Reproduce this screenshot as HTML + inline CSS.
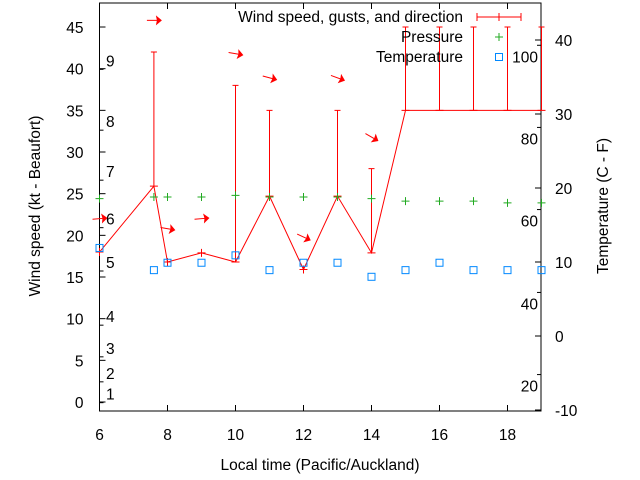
<!DOCTYPE html>
<html><head><meta charset="utf-8"><style>
html,body{margin:0;padding:0;background:#fff}
svg{display:block;font-family:"Liberation Sans",sans-serif;font-size:15.5px}
</style></head><body>
<svg id="c" width="640" height="480" xmlns="http://www.w3.org/2000/svg">
<rect x="0" y="0" width="640" height="480" fill="#fff"/>
<g id="axes"></g>
<g id="marks"></g>
<text x="40" y="206" transform="rotate(-90 40 206)" text-anchor="middle">Wind speed (kt - Beaufort)</text>
<text x="608" y="206" transform="rotate(-90 608 206)" text-anchor="middle">Temperature (C - F)</text>
<text x="320" y="470" text-anchor="middle">Local time (Pacific/Auckland)</text>
<g>
<text x="463" y="22" text-anchor="end">Wind speed, gusts, and direction</text>
<path d="M477 17H521M477 13V21M521 13V21M499 13V21" stroke="#f00" fill="none"/>
<text x="463" y="42" text-anchor="end">Pressure</text>
<path d="M495 37H503M499 33V41" stroke="#2a2"/>
<text x="463" y="62" text-anchor="end">Temperature</text>
<rect x="495.5" y="53.5" width="7" height="7" fill="none" stroke="#08f"/>
</g>
</svg>
<script>
const hours=[6,7.6,8,9,10,11,12,13,14,15,16,17,18,19];
const windSpeed=[18,25.9,16.8,17.9,16.8,24.7,15.9,24.7,17.9,35,35,35,35,35];
const windGust=[null,42,null,null,38,35,null,35,28,45,45,45,45,45];
const pressure=[24.4,24.6,24.6,24.6,24.8,24.6,24.6,24.6,24.4,24.1,24.1,24.1,23.9,23.9];
const temperature=[11.9,8.9,9.9,9.9,10.9,8.9,9.9,9.9,8.0,8.9,9.9,8.9,8.9,8.9];
const arrowHours=[6,7.6,8,9,10,11,12,13,14];
const arrowLevel=[22,45.8,20.8,22,41.8,38.9,19.8,38.9,31.8];
const arrowAngle=[-5,0,10,-5,10,15,25,20,30];
const xTicks=[6,8,10,12,14,16,18];
const yTicks=[0,5,10,15,20,25,30,35,40,45];
const y2Ticks=[-10,0,10,20,30,40];
const beaufortLabels=["1","2","3","4","5","6","7","8","9"];
const beaufortLevels=[1,3.5,6.5,10.3,16.8,22,27.7,33.7,41];
const fahrenheitLabels=["20","40","60","80","100"];
const fahrenheitLevels=[-6.7,4.4,15.6,26.7,37.8];
const L=99.5,R=541,T=3,B=411;
const X=h=>L+(h-6)*34;
const Y=v=>402-v*8.333;
const Y2=t=>410-(t+10)*7.4;
const NS="http://www.w3.org/2000/svg";
function mk(tag,attrs,parent){const e=document.createElementNS(NS,tag);for(const k in attrs)e.setAttribute(k,attrs[k]);parent.appendChild(e);return e;}
const ax=document.getElementById('axes'),mg=document.getElementById('marks');
let f=mk('rect',{x:L,y:T,width:R-L,height:B-T,fill:'none',stroke:'#000'},ax);


xTicks.forEach(h=>{const x=X(h);
 let t=mk('path',{d:`M${x} ${B}V${B-6}M${x} ${T}V${T+6}`,stroke:'#000'},ax);
 
 
 let l=mk('text',{x:x,y:B+29,'text-anchor':'middle'},ax);l.textContent=h;
 
 });
yTicks.forEach(v=>{const y=Y(v);
 let t=mk('path',{d:`M${L} ${y}H${L+6}`,stroke:'#000'},ax);
 
 
 let l=mk('text',{x:L-16,y:y+6,'text-anchor':'end'},ax);l.textContent=v;
 
 });
y2Ticks.forEach(v=>{const y=Y2(v);
 let t=mk('path',{d:`M${R} ${y}H${R-6}`,stroke:'#000'},ax);
 
 
 let l=mk('text',{x:R+14,y:y+6,'text-anchor':'start'},ax);l.textContent=v;
 
 });
beaufortLabels.forEach((s,i)=>{const y=Y(beaufortLevels[i]);
 let l=mk('text',{x:106,y:y+6},ax);l.textContent=s;
 
 
 let t=mk('path',{d:`M${L} ${y+9}H${L+4}`,stroke:'#000'},ax);
 
 });
fahrenheitLabels.forEach((s,i)=>{const y=Y2(fahrenheitLevels[i]);
 let l=mk('text',{x:538,y:y+6,'text-anchor':'end'},ax);l.textContent=s;
 
 
 let t=mk('path',{d:`M${R} ${y-11}H${R-4}`,stroke:'#000'},ax);
 
 });
let p=mk('polyline',{points:hours.map((h,i)=>X(h)+','+Y(windSpeed[i])).join(' '),fill:'none',stroke:'#f00'},mg);


hours.forEach((h,i)=>{const x=X(h),y=Y(windSpeed[i]);let d=`M${x-4} ${y}H${x+4}`;
 if(windGust[i]!=null){const g=Y(windGust[i]);d+=`M${x} ${y}V${g}M${x-3} ${g}H${x+3}`;}else d+=`M${x} ${y-4}V${y+4}`;
 let e=mk('path',{d:d,stroke:'#f00',fill:'none'},mg);
 
 });
hours.forEach((h,i)=>{const x=X(h),y=Y(pressure[i]);
 let e=mk('path',{d:`M${x-4} ${y}H${x+4}M${x} ${y-4}V${y+4}`,stroke:'#2a2'},mg);
 
 });
hours.forEach((h,i)=>{const x=X(h),y=Y2(temperature[i]);
 let e=mk('rect',{x:x-3.5,y:y-3.5,width:7,height:7,fill:'none',stroke:'#08f'},mg);
 
 });
arrowHours.forEach((h,i)=>{const x=X(h),y=Y(arrowLevel[i]);
 let g=mk('g',{transform:`translate(${x} ${y}) rotate(${arrowAngle[i]})`},mg);
 
 
 mk('path',{d:'M-7 0H7',stroke:'#f00'},g);
 mk('path',{d:'M8 0L2 -5L3 0L2 5Z',fill:'#f00'},g);});
</script>
</body></html>
